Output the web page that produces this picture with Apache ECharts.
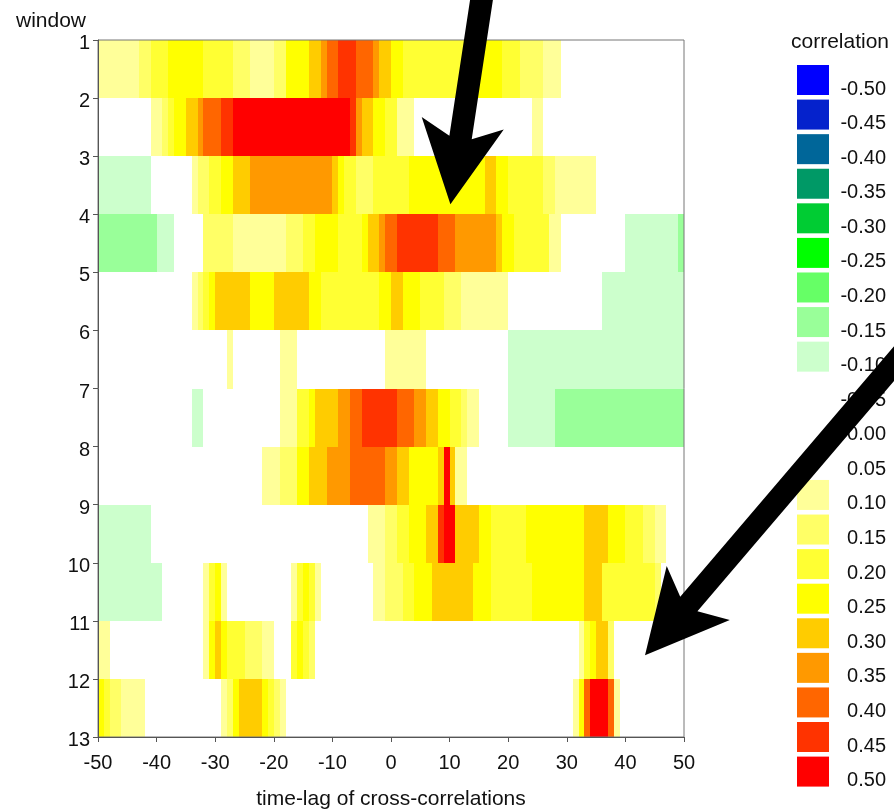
<!DOCTYPE html>
<html>
<head>
<meta charset="utf-8">
<script src="https://cdn.jsdelivr.net/npm/echarts@6/dist/echarts.min.js"></script>
<style>
  html, body { margin: 0; padding: 0; background: #fff; }
  #chart { width: 894px; height: 809px; }
</style>
</head>
<body>
<div id="chart"></div>
<script>
// Lag cells: cell k covers the interval [k, k+1]; first cell starts at -50
const lagStart = -50;
// Window rows: row w covers the band between window w and w+1
const windowRows = [1, 2, 3, 4, 5, 6, 7, 8, 9, 10, 11, 12];
const xTickValues = [-50, -40, -30, -20, -10, 0, 10, 20, 30, 40, 50];

// Colour classes of the correlation scale
const legendValues = [-0.50, -0.45, -0.40, -0.35, -0.30, -0.25, -0.20, -0.15, -0.10, -0.05,
  0.00, 0.05, 0.10, 0.15, 0.20, 0.25, 0.30, 0.35, 0.40, 0.45, 0.50];
const legendColors = ['#0000FF', '#0522CC', '#006699', '#009966', '#00CC33', '#00FF00', '#66FF66',
  '#99FF99', '#CCFFCC', '#FFFFFF', '#FFFFFF', '#FFFFFF', '#FFFF99', '#FFFF66', '#FFFF33', '#FFFF00',
  '#FFCC00', '#FF9900', '#FF6600', '#FF3300', '#FF0000'];

// Correlation per lag cell (-50 .. 49), one array per window; 0 = not shown
const w1 = [
  .10, .10, .10, .10, .10, .10, .10, .15, .15, .20,
  .20, .20, .25, .25, .25, .25, .25, .25, .20, .20,
  .20, .20, .20, .15, .15, .15, .10, .10, .10, .10,
  .15, .15, .25, .25, .25, .25, .30, .30, .35, .40,
  .40, .45, .45, .45, .40, .40, .40, .35, .30, .30,
  .25, .25, .20, .20, .20, .20, .20, .20, .20, .20,
  .20, .20, .20, .20, .25, .25, .25, .25, .25, .20,
  .20, .20, .15, .15, .15, .15, .10, .10, .10, 0,
  0, 0, 0, 0, 0, 0, 0, 0, 0, 0,
  0, 0, 0, 0, 0, 0, 0, 0, 0, 0];
const w2 = [
  0, 0, 0, 0, 0, 0, 0, 0, 0, .10,
  .10, .15, .20, .25, .25, .30, .30, .35, .40, .40,
  .40, .45, .45, .50, .50, .50, .50, .50, .50, .50,
  .50, .50, .50, .50, .50, .50, .50, .50, .50, .50,
  .50, .50, .50, .45, .35, .30, .30, .25, .25, .20,
  .20, .10, .10, .10, 0, 0, 0, 0, 0, 0,
  0, 0, 0, 0, 0, 0, 0, 0, 0, 0,
  0, 0, 0, 0, .10, .10, 0, 0, 0, 0,
  0, 0, 0, 0, 0, 0, 0, 0, 0, 0,
  0, 0, 0, 0, 0, 0, 0, 0, 0, 0];
const w3 = [
  -.10, -.10, -.10, -.10, -.10, -.10, -.10, -.10, -.10, 0,
  0, 0, 0, 0, 0, 0, .10, .15, .15, .20,
  .20, .25, .25, .30, .30, .30, .35, .35, .35, .35,
  .35, .35, .35, .35, .35, .35, .35, .35, .35, .35,
  .30, .25, .20, .20, .15, .15, .15, .20, .20, .20,
  .20, .20, .20, .25, .25, .25, .25, .25, .25, .25,
  .25, .25, .25, .25, .25, .25, .30, .30, .25, .25,
  .20, .20, .20, .20, .20, .20, .15, .15, .10, .10,
  .10, .10, .10, .10, .10, 0, 0, 0, 0, 0,
  0, 0, 0, 0, 0, 0, 0, 0, 0, 0];
const w4 = [
  -.15, -.15, -.15, -.15, -.15, -.15, -.15, -.15, -.15, -.15,
  -.10, -.10, -.10, 0, 0, 0, 0, 0, .15, .15,
  .15, .15, .15, .10, .10, .10, .10, .10, .10, .10,
  .10, .10, .15, .15, .15, .20, .20, .25, .25, .25,
  .25, .20, .20, .20, .20, .25, .30, .30, .35, .40,
  .40, .45, .45, .45, .45, .45, .45, .45, .40, .40,
  .40, .35, .35, .35, .35, .35, .35, .35, .30, .25,
  .25, .20, .20, .20, .20, .20, .20, .10, .10, 0,
  0, 0, 0, 0, 0, 0, 0, 0, 0, 0,
  -.10, -.10, -.10, -.10, -.10, -.10, -.10, -.10, -.10, -.15];
const w5 = [
  0, 0, 0, 0, 0, 0, 0, 0, 0, 0,
  0, 0, 0, 0, 0, 0, .10, .15, .20, .25,
  .30, .30, .30, .30, .30, .30, .25, .25, .25, .25,
  .30, .30, .30, .30, .30, .30, .25, .25, .20, .20,
  .20, .20, .20, .20, .20, .20, .20, .20, .25, .25,
  .30, .30, .25, .25, .25, .20, .20, .20, .20, .15,
  .15, .15, .10, .10, .10, .10, .10, .10, .10, .10,
  0, 0, 0, 0, 0, 0, 0, 0, 0, 0,
  0, 0, 0, 0, 0, 0, -.10, -.10, -.10, -.10,
  -.10, -.10, -.10, -.10, -.10, -.10, -.10, -.10, -.10, -.10];
const w6 = [
  0, 0, 0, 0, 0, 0, 0, 0, 0, 0,
  0, 0, 0, 0, 0, 0, 0, 0, 0, 0,
  0, 0, .10, 0, 0, 0, 0, 0, 0, 0,
  0, .10, .10, .10, 0, 0, 0, 0, 0, 0,
  0, 0, 0, 0, 0, 0, 0, 0, 0, .10,
  .10, .10, .10, .10, .10, .10, 0, 0, 0, 0,
  0, 0, 0, 0, 0, 0, 0, 0, 0, 0,
  -.10, -.10, -.10, -.10, -.10, -.10, -.10, -.10, -.10, -.10,
  -.10, -.10, -.10, -.10, -.10, -.10, -.10, -.10, -.10, -.10,
  -.10, -.10, -.10, -.10, -.10, -.10, -.10, -.10, -.10, -.10];
const w7 = [
  0, 0, 0, 0, 0, 0, 0, 0, 0, 0,
  0, 0, 0, 0, 0, 0, -.10, -.10, 0, 0,
  0, 0, 0, 0, 0, 0, 0, 0, 0, 0,
  0, .10, .10, .10, .20, .20, .25, .30, .30, .30,
  .30, .35, .35, .40, .40, .45, .45, .45, .45, .45,
  .45, .40, .40, .40, .35, .35, .30, .30, .25, .25,
  .20, .20, .15, .10, .10, 0, 0, 0, 0, 0,
  -.10, -.10, -.10, -.10, -.10, -.10, -.10, -.10, -.15, -.15,
  -.15, -.15, -.15, -.15, -.15, -.15, -.15, -.15, -.15, -.15,
  -.15, -.15, -.15, -.15, -.15, -.15, -.15, -.15, -.15, -.15];
const w8 = [
  0, 0, 0, 0, 0, 0, 0, 0, 0, 0,
  0, 0, 0, 0, 0, 0, 0, 0, 0, 0,
  0, 0, 0, 0, 0, 0, 0, 0, .10, .10,
  .10, .15, .15, .15, .25, .25, .30, .30, .30, .35,
  .35, .35, .35, .40, .40, .40, .40, .40, .40, .35,
  .35, .30, .30, .25, .25, .25, .25, .25, .30, .50,
  .30, .10, .10, 0, 0, 0, 0, 0, 0, 0,
  0, 0, 0, 0, 0, 0, 0, 0, 0, 0,
  0, 0, 0, 0, 0, 0, 0, 0, 0, 0,
  0, 0, 0, 0, 0, 0, 0, 0, 0, 0];
const w9 = [
  -.10, -.10, -.10, -.10, -.10, -.10, -.10, -.10, -.10, 0,
  0, 0, 0, 0, 0, 0, 0, 0, 0, 0,
  0, 0, 0, 0, 0, 0, 0, 0, 0, 0,
  0, 0, 0, 0, 0, 0, 0, 0, 0, 0,
  0, 0, 0, 0, 0, 0, .10, .10, .10, .15,
  .15, .20, .20, .25, .25, .25, .30, .30, .45, .50,
  .50, .30, .30, .30, .30, .25, .25, .20, .20, .20,
  .20, .20, .20, .25, .25, .25, .25, .25, .25, .25,
  .25, .25, .25, .30, .30, .30, .30, .25, .25, .25,
  .20, .20, .20, .15, .15, .10, .10, 0, 0, 0];
const w10 = [
  -.10, -.10, -.10, -.10, -.10, -.10, -.10, -.10, -.10, -.10,
  -.10, 0, 0, 0, 0, 0, 0, 0, .10, .20,
  .25, .10, 0, 0, 0, 0, 0, 0, 0, 0,
  0, 0, 0, .10, .20, .25, .20, .10, 0, 0,
  0, 0, 0, 0, 0, 0, 0, .10, .10, .15,
  .15, .15, .20, .20, .25, .25, .25, .30, .30, .30,
  .30, .30, .30, .30, .25, .25, .25, .20, .20, .20,
  .20, .20, .20, .20, .25, .25, .25, .25, .25, .25,
  .25, .25, .25, .30, .30, .30, .20, .20, .20, .20,
  .20, .20, .20, .20, .20, .15, 0, 0, 0, 0];
const w11 = [
  .10, .10, 0, 0, 0, 0, 0, 0, 0, 0,
  0, 0, 0, 0, 0, 0, 0, 0, .10, .25,
  .30, .25, .20, .20, .20, .15, .15, .15, .10, .10,
  0, 0, 0, .20, .25, .20, .15, 0, 0, 0,
  0, 0, 0, 0, 0, 0, 0, 0, 0, 0,
  0, 0, 0, 0, 0, 0, 0, 0, 0, 0,
  0, 0, 0, 0, 0, 0, 0, 0, 0, 0,
  0, 0, 0, 0, 0, 0, 0, 0, 0, 0,
  0, 0, .10, .20, .25, .30, .30, .15, 0, 0,
  0, 0, 0, 0, 0, 0, 0, 0, 0, 0];
const w12 = [
  .25, .20, .15, .15, .10, .10, .10, .10, 0, 0,
  0, 0, 0, 0, 0, 0, 0, 0, 0, 0,
  0, .10, .15, .25, .30, .30, .30, .30, .25, .20,
  .15, .10, 0, 0, 0, 0, 0, 0, 0, 0,
  0, 0, 0, 0, 0, 0, 0, 0, 0, 0,
  0, 0, 0, 0, 0, 0, 0, 0, 0, 0,
  0, 0, 0, 0, 0, 0, 0, 0, 0, 0,
  0, 0, 0, 0, 0, 0, 0, 0, 0, 0,
  0, .10, .25, .40, .50, .50, .50, .40, .10, 0,
  0, 0, 0, 0, 0, 0, 0, 0, 0, 0];
const windowValues = [w1, w2, w3, w4, w5, w6, w7, w8, w9, w10, w11, w12];

const FONT = '"Liberation Sans", Arial, Helvetica, sans-serif';
const INK = '#111';
const AXIS = '#555';

// Legend block geometry
const KEY_LEFT = 797, KEY_TOP = 65, KEY_W = 32, KEY_H = 30, KEY_GAP = 4.58;
const KEY_TEXT_RIGHT = 886;

// [lag, window, correlation] triples for every shown cell
const cells = [];
windowRows.forEach(function (w, r) {
  windowValues[r].forEach(function (v, i) {
    if (v !== 0) cells.push([lagStart + i, w, v]);
  });
});

const pieces = legendValues.map(function (v, i) {
  return { gte: v - 0.025, lt: v + 0.025, color: legendColors[i], label: v.toFixed(2) };
});

// Legend value labels, right-aligned and sitting low beside each swatch
const keyLabels = legendValues.map(function (v, i) {
  return {
    type: 'text', z: 50, silent: true,
    x: KEY_TEXT_RIGHT,
    y: KEY_TOP + i * (KEY_H + KEY_GAP) + KEY_H * 0.8,
    style: {
      text: v.toFixed(2), align: 'right', verticalAlign: 'middle',
      font: '20px ' + FONT, fill: INK
    }
  };
});

// Thick annotation arrow: tip point, unit direction from tip toward tail
function arrowShape(tip, dir, tailLen) {
  const dx = dir[0], dy = dir[1];
  const nx = -dy, ny = dx;
  const P = function (a, p) { return [tip[0] + a * dx + p * nx, tip[1] + a * dy + p * ny]; };
  return [P(0, 0), P(82, 41.5), P(67.5, 11.3), P(tailLen, 11.3), P(tailLen, -11.3),
    P(67.5, -11.3), P(82, -41.5)];
}
function unit(x, y) { const l = Math.hypot(x, y); return [x / l, y / l]; }

const chart = echarts.init(document.getElementById('chart'), null, { renderer: 'canvas' });

chart.setOption({
  backgroundColor: '#fff',
  animation: false,
  textStyle: { fontFamily: FONT },
  title: [
    { text: 'window', left: 16, top: 11, padding: 0,
      textStyle: { fontSize: 21, fontWeight: 'normal', color: INK, fontFamily: FONT } },
    { text: 'correlation', left: 791, top: 32, padding: 0,
      textStyle: { fontSize: 21, fontWeight: 'normal', color: INK, fontFamily: FONT } }
  ],
  grid: {
    left: 98, top: 40, width: 586, height: 697,
    outerBoundsMode: 'none',
    containLabel: false,
    show: true, borderColor: '#777', borderWidth: 1, backgroundColor: 'transparent', z: 5
  },
  xAxis: {
    type: 'value', min: xTickValues[0], max: xTickValues[xTickValues.length - 1], interval: 10,
    z: 6,
    axisLine: { show: true, onZero: false, lineStyle: { color: AXIS, width: 1 } },
    axisTick: { show: true, length: 5, lineStyle: { color: AXIS } },
    axisLabel: { fontSize: 20, color: INK, margin: 16, fontFamily: FONT },
    splitLine: { show: false },
    name: 'time-lag of cross-correlations', nameLocation: 'middle', nameGap: 52,
    nameTextStyle: { fontSize: 21, color: INK, fontFamily: FONT }
  },
  yAxis: {
    type: 'value', inverse: true, min: 1, max: 13, interval: 1,
    z: 6,
    axisLine: { show: true, onZero: false, lineStyle: { color: AXIS, width: 1 } },
    axisTick: { show: true, length: 5, lineStyle: { color: AXIS } },
    axisLabel: { fontSize: 20, color: INK, margin: 8, fontFamily: FONT,
      verticalAlign: 'top', lineHeight: 7 },
    splitLine: { show: false }
  },
  visualMap: {
    type: 'piecewise',
    dimension: 2,
    seriesIndex: 0,
    orient: 'vertical',
    inverse: true,
    align: 'left',
    left: KEY_LEFT, top: KEY_TOP,
    padding: 0,
    itemWidth: KEY_W, itemHeight: KEY_H, itemGap: KEY_GAP,
    itemSymbol: 'rect',
    showLabel: false,
    selectedMode: false,
    hoverLink: false,
    pieces: pieces
  },
  graphic: keyLabels.concat([
    { type: 'polygon', z: 100, silent: true,
      shape: { points: arrowShape([450.4, 204.3], unit(25.6, -168.3), 280) },
      style: { fill: '#000' } },
    { type: 'polygon', z: 100, silent: true,
      shape: { points: arrowShape([645, 655.3], unit(0.649, -0.760), 470) },
      style: { fill: '#000' } }
  ]),
  series: [{
    type: 'custom',
    coordinateSystem: 'cartesian2d',
    silent: true,
    clip: true,
    dimensions: ['lag', 'window', 'corr'],
    encode: { x: 0, y: 1 },
    data: cells,
    renderItem: function (params, api) {
      const lag = api.value(0), w = api.value(1);
      const a = api.coord([lag, w]);
      const b = api.coord([lag + 1, w + 1]);
      const x0 = Math.round(Math.min(a[0], b[0])), x1 = Math.round(Math.max(a[0], b[0]));
      const y0 = Math.round(Math.min(a[1], b[1])), y1 = Math.round(Math.max(a[1], b[1]));
      return {
        type: 'rect',
        shape: { x: x0, y: y0, width: x1 - x0, height: y1 - y0 },
        style: { fill: api.visual('color') }
      };
    }
  }]
});
</script>
</body>
</html>
